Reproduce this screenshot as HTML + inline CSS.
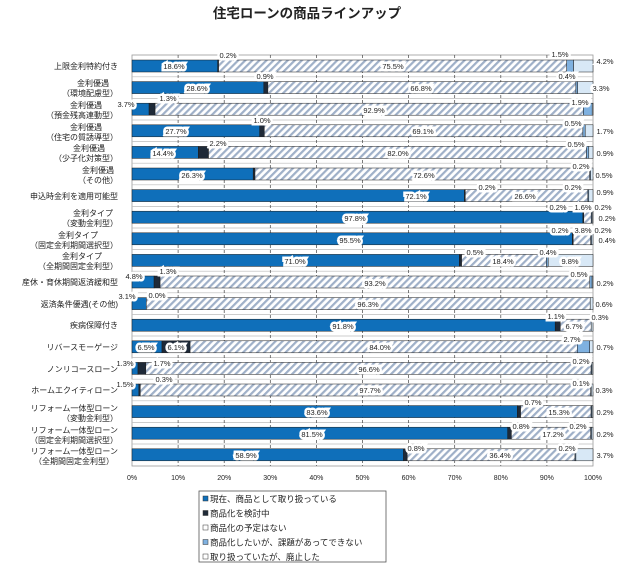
<!DOCTYPE html>
<html><head><meta charset="utf-8"><style>
body{margin:0;background:#fff;}
svg{display:block;font-family:"Liberation Sans","Noto Sans CJK JP",sans-serif;}
.v{font-size:7.5px;fill:#222;text-anchor:middle;stroke:#fff;stroke-width:5px;stroke-linejoin:miter;paint-order:stroke;}
.c{font-size:8px;fill:#222;}
.t{font-size:7px;fill:#222;text-anchor:middle;}
</style></head><body>
<svg width="640" height="567" viewBox="0 0 640 567" xmlns="http://www.w3.org/2000/svg">
<defs>
<pattern id="h" width="5" height="5" patternUnits="userSpaceOnUse" patternTransform="rotate(45)">
<rect width="5" height="5" fill="#fff"/><rect width="2.2" height="5" fill="#9fb0c8"/>
</pattern>
</defs>
<text x="307" y="18" font-size="13.5" font-weight="bold" text-anchor="middle" fill="#222">住宅ローンの商品ラインアップ</text>
<rect x="132" y="55" width="461" height="411" fill="#fff" stroke="#999" stroke-width="0.8"/>
<g stroke="#bbb" stroke-width="0.7">
<line x1="132" x2="593" y1="76.8" y2="76.8"/><line x1="132" x2="593" y1="98.4" y2="98.4"/><line x1="132" x2="593" y1="120" y2="120"/><line x1="132" x2="593" y1="141.6" y2="141.6"/><line x1="132" x2="593" y1="163.2" y2="163.2"/><line x1="132" x2="593" y1="184.8" y2="184.8"/><line x1="132" x2="593" y1="206.4" y2="206.4"/><line x1="132" x2="593" y1="228" y2="228"/><line x1="132" x2="593" y1="249.6" y2="249.6"/><line x1="132" x2="593" y1="271.2" y2="271.2"/><line x1="132" x2="593" y1="292.8" y2="292.8"/><line x1="132" x2="593" y1="314.4" y2="314.4"/><line x1="132" x2="593" y1="336" y2="336"/><line x1="132" x2="593" y1="357.6" y2="357.6"/><line x1="132" x2="593" y1="379.2" y2="379.2"/><line x1="132" x2="593" y1="400.8" y2="400.8"/><line x1="132" x2="593" y1="422.4" y2="422.4"/><line x1="132" x2="593" y1="444" y2="444"/>
</g>
<g stroke="#444" stroke-width="0.7" stroke-dasharray="3,2">
<line x1="178.1" x2="178.1" y1="55" y2="466"/><line x1="224.2" x2="224.2" y1="55" y2="466"/><line x1="270.3" x2="270.3" y1="55" y2="466"/><line x1="316.4" x2="316.4" y1="55" y2="466"/><line x1="362.5" x2="362.5" y1="55" y2="466"/><line x1="408.6" x2="408.6" y1="55" y2="466"/><line x1="454.7" x2="454.7" y1="55" y2="466"/><line x1="500.8" x2="500.8" y1="55" y2="466"/><line x1="546.9" x2="546.9" y1="55" y2="466"/>
</g>
<g stroke="#1a1a1a" stroke-width="0.5">
<rect x="132" y="60" width="85.7" height="12" fill="#0f6fba"/><rect x="217.7" y="60" width="0.9" height="12" fill="#1f2a38"/><rect x="218.6" y="60" width="348.1" height="12" fill="url(#h)"/><rect x="566.7" y="60" width="6.9" height="12" fill="#7fb1e0"/><rect x="573.6" y="60" width="19.4" height="12" fill="#d8e8f6"/>
<rect x="132" y="81.6" width="131.8" height="12" fill="#0f6fba"/><rect x="263.8" y="81.6" width="4.1" height="12" fill="#1f2a38"/><rect x="267.9" y="81.6" width="308" height="12" fill="url(#h)"/><rect x="575.9" y="81.6" width="1.8" height="12" fill="#7fb1e0"/><rect x="577.7" y="81.6" width="15.3" height="12" fill="#d8e8f6"/>
<rect x="132" y="103.2" width="17.1" height="12" fill="#0f6fba"/><rect x="149.1" y="103.2" width="6" height="12" fill="#1f2a38"/><rect x="155.1" y="103.2" width="428.3" height="12" fill="url(#h)"/><rect x="583.4" y="103.2" width="8.8" height="12" fill="#7fb1e0"/><rect x="592.2" y="103.2" width="0.9" height="12" fill="#d8e8f6"/>
<rect x="132" y="124.8" width="127.7" height="12" fill="#0f6fba"/><rect x="259.7" y="124.8" width="4.6" height="12" fill="#1f2a38"/><rect x="264.3" y="124.8" width="318.6" height="12" fill="url(#h)"/><rect x="582.9" y="124.8" width="2.3" height="12" fill="#7fb1e0"/><rect x="585.2" y="124.8" width="7.8" height="12" fill="#d8e8f6"/>
<rect x="132" y="146.4" width="66.4" height="12" fill="#0f6fba"/><rect x="198.4" y="146.4" width="10.1" height="12" fill="#1f2a38"/><rect x="208.5" y="146.4" width="378" height="12" fill="url(#h)"/><rect x="586.5" y="146.4" width="2.3" height="12" fill="#7fb1e0"/><rect x="588.8" y="146.4" width="4.2" height="12" fill="#d8e8f6"/>
<rect x="132" y="168" width="121.2" height="12" fill="#0f6fba"/><rect x="253.2" y="168" width="1.8" height="12" fill="#1f2a38"/><rect x="255" y="168" width="334.7" height="12" fill="url(#h)"/><rect x="589.7" y="168" width="0.9" height="12" fill="#7fb1e0"/><rect x="590.6" y="168" width="2.4" height="12" fill="#d8e8f6"/>
<rect x="132" y="189.6" width="332.4" height="12" fill="#0f6fba"/><rect x="464.4" y="189.6" width="0.9" height="12" fill="#1f2a38"/><rect x="465.3" y="189.6" width="122.6" height="12" fill="url(#h)"/><rect x="587.9" y="189.6" width="0.9" height="12" fill="#7fb1e0"/><rect x="588.8" y="189.6" width="4.2" height="12" fill="#d8e8f6"/>
<rect x="132" y="211.2" width="450.9" height="12" fill="#0f6fba"/><rect x="582.9" y="211.2" width="0.9" height="12" fill="#1f2a38"/><rect x="583.8" y="211.2" width="7.4" height="12" fill="url(#h)"/><rect x="591.2" y="211.2" width="0.9" height="12" fill="#7fb1e0"/><rect x="592.1" y="211.2" width="0.9" height="12" fill="#d8e8f6"/>
<rect x="132" y="232.8" width="440.3" height="12" fill="#0f6fba"/><rect x="572.3" y="232.8" width="0.9" height="12" fill="#1f2a38"/><rect x="573.2" y="232.8" width="17.5" height="12" fill="url(#h)"/><rect x="590.7" y="232.8" width="0.9" height="12" fill="#7fb1e0"/><rect x="591.6" y="232.8" width="1.4" height="12" fill="#d8e8f6"/>
<rect x="132" y="254.4" width="327.3" height="12" fill="#0f6fba"/><rect x="459.3" y="254.4" width="2.3" height="12" fill="#1f2a38"/><rect x="461.6" y="254.4" width="84.8" height="12" fill="url(#h)"/><rect x="546.4" y="254.4" width="1.8" height="12" fill="#7fb1e0"/><rect x="548.2" y="254.4" width="44.8" height="12" fill="#d8e8f6"/>
<rect x="132" y="276" width="22.1" height="12" fill="#0f6fba"/><rect x="154.1" y="276" width="6" height="12" fill="#1f2a38"/><rect x="160.1" y="276" width="429.7" height="12" fill="url(#h)"/><rect x="589.8" y="276" width="2.3" height="12" fill="#7fb1e0"/><rect x="592.1" y="276" width="0.9" height="12" fill="#d8e8f6"/>
<rect x="132" y="297.6" width="14.3" height="12" fill="#0f6fba"/><rect x="146.3" y="297.6" width="443.9" height="12" fill="url(#h)"/><rect x="590.2" y="297.6" width="2.8" height="12" fill="#d8e8f6"/>
<rect x="132" y="319.2" width="423.2" height="12" fill="#0f6fba"/><rect x="555.2" y="319.2" width="5.1" height="12" fill="#1f2a38"/><rect x="560.3" y="319.2" width="30.9" height="12" fill="url(#h)"/><rect x="591.2" y="319.2" width="1.8" height="12" fill="#d8e8f6"/>
<rect x="132" y="340.8" width="30" height="12" fill="#0f6fba"/><rect x="162" y="340.8" width="28.1" height="12" fill="#1f2a38"/><rect x="190.1" y="340.8" width="387.2" height="12" fill="url(#h)"/><rect x="577.3" y="340.8" width="12.4" height="12" fill="#7fb1e0"/><rect x="589.7" y="340.8" width="3.3" height="12" fill="#d8e8f6"/>
<rect x="132" y="362.4" width="6" height="12" fill="#0f6fba"/><rect x="138" y="362.4" width="7.8" height="12" fill="#1f2a38"/><rect x="145.8" y="362.4" width="445.3" height="12" fill="url(#h)"/><rect x="591.1" y="362.4" width="0.9" height="12" fill="#7fb1e0"/><rect x="592" y="362.4" width="1" height="12" fill="#d8e8f6"/>
<rect x="132" y="384" width="6.9" height="12" fill="#0f6fba"/><rect x="138.9" y="384" width="1.4" height="12" fill="#1f2a38"/><rect x="140.3" y="384" width="450.4" height="12" fill="url(#h)"/><rect x="590.7" y="384" width="0.6" height="12" fill="#7fb1e0"/><rect x="591.3" y="384" width="1.7" height="12" fill="#d8e8f6"/>
<rect x="132" y="405.6" width="385.4" height="12" fill="#0f6fba"/><rect x="517.4" y="405.6" width="3.2" height="12" fill="#1f2a38"/><rect x="520.6" y="405.6" width="70.5" height="12" fill="url(#h)"/><rect x="591.1" y="405.6" width="0.9" height="12" fill="#7fb1e0"/><rect x="592" y="405.6" width="1" height="12" fill="#d8e8f6"/>
<rect x="132" y="427.2" width="375.7" height="12" fill="#0f6fba"/><rect x="507.7" y="427.2" width="3.7" height="12" fill="#1f2a38"/><rect x="511.4" y="427.2" width="79.3" height="12" fill="url(#h)"/><rect x="590.7" y="427.2" width="0.9" height="12" fill="#7fb1e0"/><rect x="591.6" y="427.2" width="1.4" height="12" fill="#d8e8f6"/>
<rect x="132" y="448.8" width="271.5" height="12" fill="#0f6fba"/><rect x="403.5" y="448.8" width="3.7" height="12" fill="#1f2a38"/><rect x="407.2" y="448.8" width="167.8" height="12" fill="url(#h)"/><rect x="575" y="448.8" width="0.9" height="12" fill="#7fb1e0"/><rect x="575.9" y="448.8" width="17.1" height="12" fill="#d8e8f6"/>
</g>
<g>
<text class="v" x="174" y="69">18.6%</text><text class="v" x="228" y="58">0.2%</text><text class="v" x="393" y="69">75.5%</text><text class="v" x="560" y="57">1.5%</text><text class="v" x="605" y="64">4.2%</text>
<text class="v" x="197" y="91">28.6%</text><text class="v" x="265" y="79">0.9%</text><text class="v" x="421" y="91">66.8%</text><text class="v" x="567" y="79">0.4%</text><text class="v" x="601" y="91">3.3%</text>
<text class="v" x="126" y="107">3.7%</text><text class="v" x="168" y="101">1.3%</text><text class="v" x="374" y="113">92.9%</text><text class="v" x="580" y="105">1.9%</text>
<text class="v" x="176" y="134">27.7%</text><text class="v" x="262" y="123">1.0%</text><text class="v" x="423" y="134">69.1%</text><text class="v" x="573" y="126">0.5%</text><text class="v" x="605" y="134">1.7%</text>
<text class="v" x="163" y="156">14.4%</text><text class="v" x="218" y="146">2.2%</text><text class="v" x="398" y="156">82.0%</text><text class="v" x="576" y="147">0.5%</text><text class="v" x="605" y="156">0.9%</text>
<text class="v" x="192" y="178">26.3%</text><text class="v" x="424" y="178">72.6%</text><text class="v" x="581" y="169">0.2%</text><text class="v" x="604" y="178">0.5%</text>
<text class="v" x="416" y="199">72.1%</text><text class="v" x="487" y="190">0.2%</text><text class="v" x="525" y="199">26.6%</text><text class="v" x="573" y="190">0.2%</text><text class="v" x="605" y="195">0.9%</text>
<text class="v" x="355" y="221">97.8%</text><text class="v" x="558" y="210">0.2%</text><text class="v" x="583" y="210">1.6%</text><text class="v" x="603" y="210">0.2%</text><text class="v" x="607" y="221">0.2%</text>
<text class="v" x="350" y="243">95.5%</text><text class="v" x="560" y="233">0.2%</text><text class="v" x="583" y="233">3.8%</text><text class="v" x="603" y="233">0.2%</text><text class="v" x="607" y="243">0.4%</text>
<text class="v" x="295" y="264">71.0%</text><text class="v" x="475" y="255">0.5%</text><text class="v" x="503" y="264">18.4%</text><text class="v" x="548" y="255">0.4%</text><text class="v" x="570" y="264">9.8%</text>
<text class="v" x="134" y="279">4.8%</text><text class="v" x="168" y="274">1.3%</text><text class="v" x="375" y="286">93.2%</text><text class="v" x="579" y="277">0.5%</text><text class="v" x="605" y="286">0.2%</text>
<text class="v" x="127" y="299">3.1%</text><text class="v" x="157" y="298">0.0%</text><text class="v" x="368" y="307">96.3%</text><text class="v" x="604" y="307">0.6%</text>
<text class="v" x="343" y="329">91.8%</text><text class="v" x="556" y="319">1.1%</text><text class="v" x="574" y="329">6.7%</text><text class="v" x="600" y="320">0.3%</text>
<text class="v" x="146" y="350">6.5%</text><text class="v" x="176" y="350">6.1%</text><text class="v" x="380" y="350">84.0%</text><text class="v" x="572" y="342">2.7%</text><text class="v" x="605" y="350">0.7%</text>
<text class="v" x="125" y="366">1.3%</text><text class="v" x="162" y="366">1.7%</text><text class="v" x="369" y="372">96.6%</text><text class="v" x="581" y="364">0.2%</text>
<text class="v" x="125" y="387">1.5%</text><text class="v" x="164" y="382">0.3%</text><text class="v" x="370" y="393">97.7%</text><text class="v" x="581" y="386">0.1%</text><text class="v" x="604" y="393">0.3%</text>
<text class="v" x="317" y="415">83.6%</text><text class="v" x="533" y="405">0.7%</text><text class="v" x="559" y="415">15.3%</text><text class="v" x="605" y="415">0.2%</text>
<text class="v" x="312" y="437">81.5%</text><text class="v" x="521" y="429">0.8%</text><text class="v" x="553" y="437">17.2%</text><text class="v" x="578" y="429">0.2%</text><text class="v" x="605" y="437">0.2%</text>
<text class="v" x="246" y="458">58.9%</text><text class="v" x="416" y="451">0.8%</text><text class="v" x="500" y="458">36.4%</text><text class="v" x="567" y="451">0.2%</text><text class="v" x="605" y="458">3.7%</text>
</g>
<g class="c">
<text x="118" y="69" text-anchor="end">上限金利特約付き</text>
<text x="93" y="86" text-anchor="middle">金利優遇</text><text x="118" y="96" text-anchor="end">（環境配慮型）</text>
<text x="86" y="108" text-anchor="middle">金利優遇</text><text x="118" y="118" text-anchor="end">（預金残高連動型）</text>
<text x="86" y="130" text-anchor="middle">金利優遇</text><text x="118" y="140" text-anchor="end">（住宅の質誘導型）</text>
<text x="89" y="151" text-anchor="middle">金利優遇</text><text x="118" y="161" text-anchor="end">（少子化対策型）</text>
<text x="98" y="173" text-anchor="middle">金利優遇</text><text x="118" y="183" text-anchor="end">（その他）</text>
<text x="118" y="199" text-anchor="end">申込時金利を適用可能型</text>
<text x="93" y="216" text-anchor="middle">金利タイプ</text><text x="118" y="226" text-anchor="end">（変動金利型）</text>
<text x="78" y="238" text-anchor="middle">金利タイプ</text><text x="118" y="248" text-anchor="end">（固定金利期間選択型）</text>
<text x="82" y="259" text-anchor="middle">金利タイプ</text><text x="118" y="269" text-anchor="end">（全期間固定金利型）</text>
<text x="118" y="285" text-anchor="end">産休・育休期間返済緩和型</text>
<text x="118" y="307" text-anchor="end">返済条件優遇(その他)</text>
<text x="118" y="328" text-anchor="end">疾病保障付き</text>
<text x="118" y="350" text-anchor="end">リバースモーゲージ</text>
<text x="118" y="372" text-anchor="end">ノンリコースローン</text>
<text x="118" y="393" text-anchor="end">ホームエクイティローン</text>
<text x="118" y="411" text-anchor="end">リフォーム一体型ローン</text><text x="90" y="421" text-anchor="middle">（変動金利型）</text>
<text x="118" y="433" text-anchor="end">リフォーム一体型ローン</text><text x="118" y="443" text-anchor="end">（固定金利期間選択型）</text>
<text x="118" y="454" text-anchor="end">リフォーム一体型ローン</text><text x="114" y="464" text-anchor="end">（全期間固定金利型）</text>
</g>
<g class="t">
<text x="132" y="480">0%</text><text x="178.1" y="480">10%</text><text x="224.2" y="480">20%</text><text x="270.3" y="480">30%</text><text x="316.4" y="480">40%</text><text x="362.5" y="480">50%</text><text x="408.6" y="480">60%</text><text x="454.7" y="480">70%</text><text x="500.8" y="480">80%</text><text x="546.9" y="480">90%</text><text x="593" y="480">100%</text>
</g>
<rect x="199" y="491" width="187" height="71" fill="#fff" stroke="#555" stroke-width="0.8"/>
<g stroke="#333" stroke-width="0.5">
<rect x="203" y="496" width="5" height="5" fill="#0f6fba"/>
<rect x="203" y="510.5" width="5" height="5" fill="#1f2a38"/>
<rect x="203" y="525" width="5" height="5" fill="#fff"/>
<rect x="203" y="539.5" width="5" height="5" fill="#7fb1e0"/>
<rect x="203" y="554" width="5" height="5" fill="#fff"/>
</g>
<g font-size="8.5" fill="#222">
<text x="210" y="502">現在、商品として取り扱っている</text>
<text x="210" y="516.5">商品化を検討中</text>
<text x="210" y="531">商品化の予定はない</text>
<text x="210" y="545.5">商品化したいが、課題があってできない</text>
<text x="210" y="560">取り扱っていたが、廃止した</text>
</g>
</svg>
</body></html>
